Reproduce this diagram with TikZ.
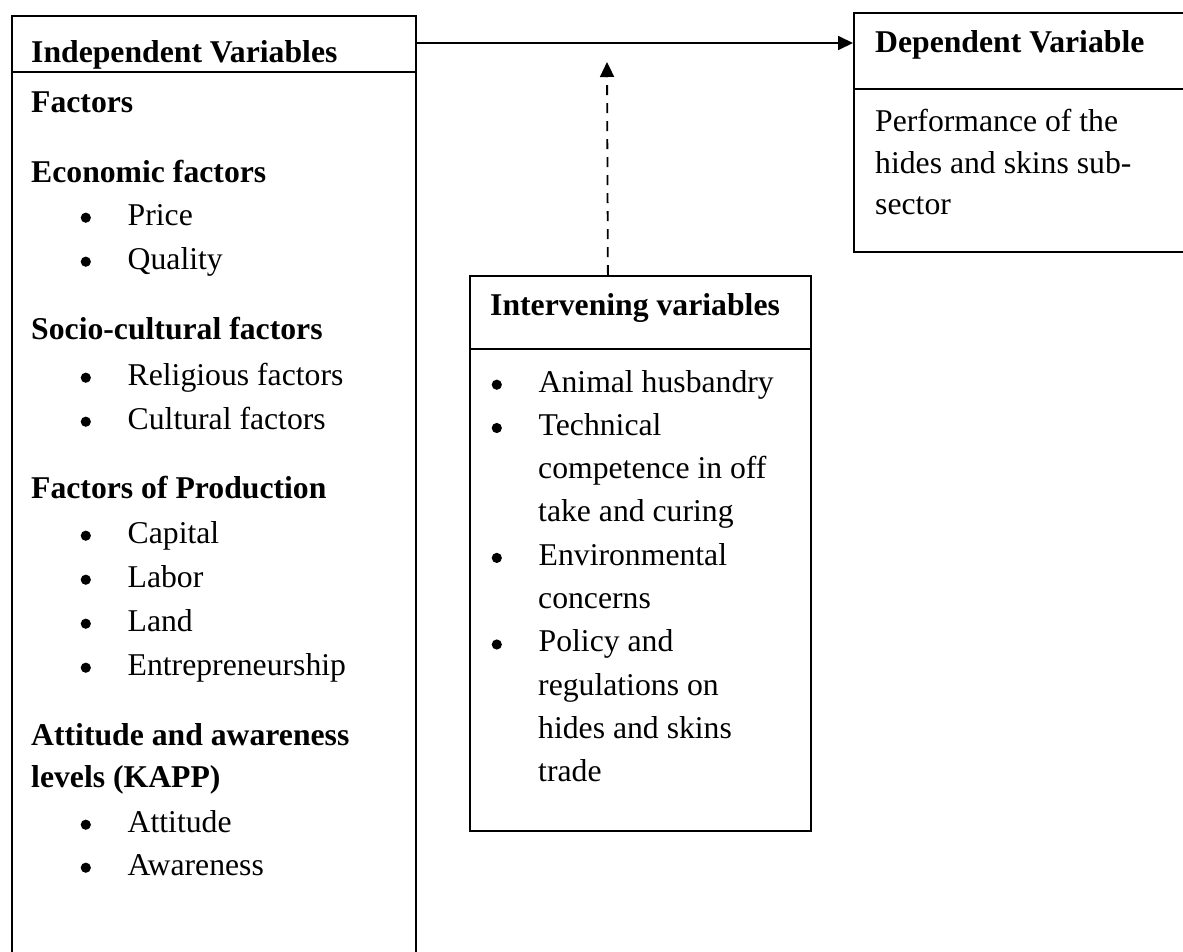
\documentclass[tikz,border=0pt]{standalone}
\usepackage{fontspec}
\setmainfont{Liberation Serif}
\usetikzlibrary{arrows.meta}
% round list marker followed by the item text at a fixed indent
\newcommand{\listmark}{\tikz[baseline=0pt]\fill (5.3pt,7.3pt) circle[radius=5.1pt];}
\newcommand{\bul}[1]{\makebox[47pt][l]{\listmark}#1}
\begin{document}
\begin{tikzpicture}[x=1pt,y=-1pt,
  frame/.style={draw, line width=1.8pt, inner sep=0pt, anchor=north west},
  rule/.style={line width=1.8pt},
  txt/.style={anchor=base west, inner sep=0pt, font=\fontsize{31.7pt}{44pt}\selectfont},
  hd/.style={txt, font=\fontsize{31.7pt}{44pt}\selectfont\bfseries},
  link/.style={line width=1.8pt, -{Triangle[length=15pt,width=14pt]}},
  dashlink/.style={link, dash pattern=on 10pt off 8pt}]
\useasboundingbox (0,0) rectangle (1183,951);

% boxes
\node[frame, minimum width=404pt, minimum height=950pt] (ivbox) at (11,15) {};
\node[frame, minimum width=341pt, minimum height=555pt] (ivarbox) at (469,275) {};
\node[frame, minimum width=350pt, minimum height=239pt] (dvbox) at (853,12) {};

% header rules
\draw[rule] (ivbox.west |- 0,72) -- (ivbox.east |- 0,72);
\draw[rule] (ivarbox.west |- 0,349) -- (ivarbox.east |- 0,349);
\draw[rule] (dvbox.west |- 0,89) -- (dvbox.east |- 0,89);

% independent variables
\node[hd] (ivtitle) at (31,62) {Independent Variables};
\node[hd] (ivfactors) at (31,112) {Factors};
\node[hd] (econ) at (31,182) {Economic factors};
\node[txt] (price) at (80.5,225) {\bul{Price}};
\node[txt] (quality) at (80.5,269) {\bul{Quality}};
\node[hd] (socio) at (31,339) {Socio-cultural factors};
\node[txt] (relig) at (80.5,385) {\bul{Religious factors}};
\node[txt] (cult) at (80.5,429) {\bul{Cultural factors}};
\node[hd] (prod) at (31,498) {Factors of Production};
\node[txt] (capital) at (80.5,543) {\bul{Capital}};
\node[txt] (labor) at (80.5,587) {\bul{Labor}};
\node[txt] (land) at (80.5,631) {\bul{Land}};
\node[txt] (entre) at (80.5,675) {\bul{Entrepreneurship}};
\node[hd] (kapp1) at (31,745) {Attitude and awareness};
\node[hd] (kapp2) at (31,787) {levels (KAPP)};
\node[txt] (attit) at (80.5,832) {\bul{Attitude}};
\node[txt] (aware) at (80.5,875) {\bul{Awareness}};

% intervening variables
\node[hd] (ivartitle) at (490,315) {Intervening variables};
\node[txt] (husb) at (491.5,392) {\bul{Animal husbandry}};
\node[txt] (tech1) at (491.5,435.3) {\bul{Technical}};
\node[txt] (tech2) at (538,478.6) {competence in off};
\node[txt] (tech3) at (538,521.9) {take and curing};
\node[txt] (env1) at (491.5,565.2) {\bul{Environmental}};
\node[txt] (env2) at (538,608.5) {concerns};
\node[txt] (pol1) at (491.5,651.8) {\bul{Policy and}};
\node[txt] (pol2) at (538,695.1) {regulations on};
\node[txt] (pol3) at (538,738.4) {hides and skins};
\node[txt] (pol4) at (538,781.7) {trade};

% dependent variable
\node[hd] (dvtitle) at (875,52) {Dependent Variable};
\node[txt] (perf1) at (875,131) {Performance of the};
\node[txt] (perf2) at (875,173) {hides and skins sub-};
\node[txt] (perf3) at (875,214) {sector};

% connectors
\coordinate (mainstart) at ([yshift=-28pt]ivbox.north east);
\draw[link] (mainstart) -- (mainstart -| dvbox.west);
\coordinate (dashstart) at ([xshift=-32.5pt]ivarbox.north);
\coordinate (dashtip) at (607,62);
\draw[dashlink] (dashstart) -- (dashtip);
\end{tikzpicture}
\end{document}
